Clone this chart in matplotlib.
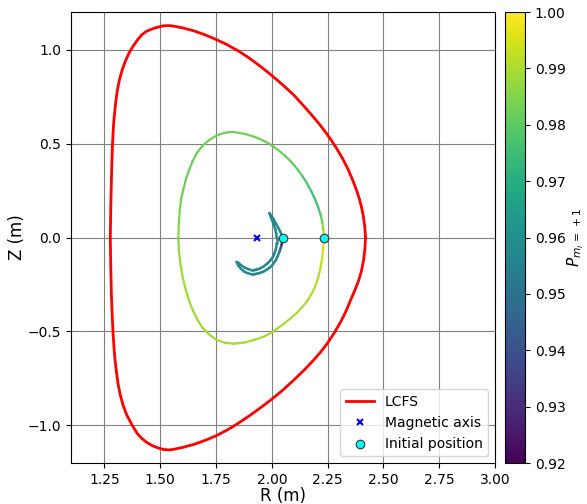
import numpy as np
import matplotlib
matplotlib.use("Agg")
import matplotlib.pyplot as plt
from matplotlib.collections import LineCollection

# LCFS boundary (R, Z in m)
lcfs_R = [2.420, 2.416, 2.409, 2.401, 2.393, 2.380, 2.364, 2.342, 2.317, 2.290,
          2.265, 2.243, 2.212, 2.180, 2.143, 2.097, 2.049, 2.000, 1.950, 1.895,
          1.850, 1.800, 1.750, 1.700, 1.650, 1.600, 1.560, 1.541, 1.515, 1.490,
          1.465, 1.439, 1.418, 1.398, 1.378, 1.360, 1.344, 1.330, 1.317, 1.307,
          1.300, 1.295, 1.291, 1.286, 1.283, 1.281, 1.278, 1.276,
          1.278, 1.281, 1.284, 1.288, 1.294, 1.298, 1.304, 1.311, 1.320, 1.334,
          1.350, 1.372, 1.398, 1.418, 1.439, 1.465, 1.490, 1.515, 1.541, 1.560,
          1.600, 1.650, 1.700, 1.750, 1.800, 1.850, 1.900, 1.950, 2.000, 2.049,
          2.097, 2.145, 2.185, 2.218, 2.245, 2.280, 2.308, 2.333, 2.354, 2.372,
          2.388, 2.401, 2.411, 2.417, 2.420]
lcfs_Z = [0.000, 0.060, 0.120, 0.165, 0.202, 0.250, 0.300, 0.362, 0.420, 0.475,
          0.520, 0.557, 0.605, 0.650, 0.700, 0.760, 0.812, 0.862, 0.910, 0.958,
          0.993, 1.026, 1.054, 1.079, 1.100, 1.116, 1.125, 1.128, 1.127, 1.120,
          1.111, 1.098, 1.080, 1.052, 1.018, 0.982, 0.940, 0.895, 0.840, 0.780,
          0.716, 0.660, 0.610, 0.500, 0.400, 0.309, 0.150, 0.000,
          -0.150, -0.310, -0.400, -0.503, -0.610, -0.660, -0.720, -0.780, -0.835, -0.895,
          -0.945, -0.995, -1.045, -1.070, -1.090, -1.108, -1.120, -1.128, -1.130, -1.127,
          -1.117, -1.101, -1.080, -1.055, -1.024, -0.988, -0.948, -0.905, -0.860, -0.812,
          -0.760, -0.705, -0.655, -0.610, -0.569, -0.507, -0.450, -0.390, -0.330, -0.280,
          -0.232, -0.180, -0.120, -0.060, 0.000]

# passing orbit from the outer start point, coloured by P
pass_R = [2.233, 2.231, 2.226, 2.218, 2.207, 2.193, 2.177, 2.158, 2.137, 2.113,
          2.087, 2.060, 2.030, 2.000, 1.965, 1.925, 1.880, 1.829, 1.800, 1.770,
          1.750, 1.718, 1.689, 1.665, 1.645, 1.630, 1.615, 1.603, 1.593, 1.587,
          1.583, 1.581,
          1.583, 1.587, 1.593, 1.600, 1.610, 1.630, 1.645, 1.665, 1.689, 1.718,
          1.750, 1.790, 1.829, 1.880, 1.925, 1.965, 2.000, 2.025, 2.049, 2.080,
          2.108, 2.135, 2.158, 2.178, 2.195, 2.208, 2.218, 2.225, 2.230, 2.233]
pass_Z = [0.000, 0.040, 0.080, 0.122, 0.163, 0.205, 0.245, 0.287, 0.327, 0.366,
          0.402, 0.434, 0.464, 0.490, 0.514, 0.535, 0.551, 0.562, 0.560, 0.551,
          0.541, 0.518, 0.488, 0.452, 0.407, 0.362, 0.310, 0.255, 0.202, 0.140,
          0.070, 0.000,
          -0.060, -0.110, -0.161, -0.210, -0.260, -0.338, -0.385, -0.435, -0.480, -0.515,
          -0.543, -0.560, -0.565, -0.558, -0.543, -0.527, -0.504, -0.484, -0.463, -0.434,
          -0.405, -0.372, -0.338, -0.300, -0.258, -0.212, -0.163, -0.112, -0.056, 0.000]
pass_P = [0.996, 0.990, 0.984, 0.979, 0.976, 0.975, 0.976, 0.978, 0.979, 0.980,
          0.981, 0.981, 0.982, 0.982, 0.982, 0.983, 0.983, 0.983, 0.983, 0.983,
          0.983, 0.983, 0.982, 0.982, 0.982, 0.982, 0.982, 0.982, 0.983, 0.984,
          0.985, 0.986,
          0.987, 0.988, 0.988, 0.989, 0.989, 0.989, 0.989, 0.989, 0.989, 0.989,
          0.989, 0.989, 0.989, 0.989, 0.989, 0.989, 0.989, 0.989, 0.990, 0.990,
          0.990, 0.990, 0.990, 0.990, 0.991, 0.991, 0.992, 0.993, 0.994, 0.996]

# banana orbit from the inner start point
ban_R = [2.049, 2.046, 2.041, 2.034, 2.026, 2.016, 2.005, 1.992, 1.978, 1.964,
         1.950, 1.935, 1.920, 1.905, 1.890, 1.876, 1.861, 1.850, 1.842,
         1.850, 1.863, 1.878, 1.892, 1.905, 1.920, 1.935, 1.950, 1.965, 1.980,
         1.993, 2.005, 2.013, 2.019, 2.022, 2.022, 2.020, 2.015, 2.009, 2.002,
         1.995, 1.989,
         1.998, 2.008, 2.018, 2.028, 2.037, 2.044, 2.048]
ban_Z = [0.000, -0.025, -0.050, -0.075, -0.100, -0.124, -0.142, -0.158, -0.170, -0.180,
         -0.187, -0.192, -0.194, -0.194, -0.189, -0.181, -0.166, -0.150, -0.130,
         -0.135, -0.148, -0.160, -0.167, -0.172, -0.172, -0.170, -0.163, -0.152, -0.138,
         -0.122, -0.103, -0.080, -0.055, -0.030, -0.005, 0.020, 0.045, 0.068, 0.090,
         0.110, 0.130,
         0.116, 0.097, 0.075, 0.053, 0.033, 0.015, 0.002]
ban_P = [0.925, 0.925, 0.930] + [0.957] * 45

axis_R, axis_Z = 1.932, 0.0
start_R = [2.049, 2.233]
start_Z = [0.0, 0.0]

p_min, p_max = 0.92, 1.00


def colored_line(R, Z, P, lw):
    pts = np.column_stack([R, Z]).reshape(-1, 1, 2)
    segs = np.concatenate([pts[:-1], pts[1:]], axis=1)
    P = np.asarray(P)
    vals = 0.5 * (P[:-1] + P[1:])
    lc = LineCollection(segs, cmap="viridis", norm=plt.Normalize(p_min, p_max),
                        linewidths=lw, capstyle="round", joinstyle="round")
    lc.set_array(vals)
    return lc


fig = plt.figure(figsize=(5.87, 5.04), dpi=100)
ax = fig.add_axes([0.121, 0.0813, 0.7223, 0.8948])
cax = fig.add_axes([0.8603, 0.0813, 0.0341, 0.8948])

ax.plot(lcfs_R, lcfs_Z, color="red", lw=2, label="LCFS")
lc1 = colored_line(pass_R, pass_Z, pass_P, 1.6)
ax.add_collection(lc1)
lc2 = colored_line(ban_R, ban_Z, ban_P, 1.8)
ax.add_collection(lc2)

ax.plot(axis_R, axis_Z, "x", color="blue", ms=5, mew=1.5, ls="none",
        label="Magnetic axis")
ax.scatter(start_R, start_Z, s=38, color="cyan", edgecolors="#333333",
           linewidths=0.8, zorder=5, label="Initial position")

ax.set_xlim(1.1, 3.0)
ax.set_ylim(-1.2, 1.2)
ax.set_xlabel("R (m)", fontsize=12, labelpad=0)
ax.set_ylabel("Z (m)", fontsize=12, labelpad=1)
ax.grid(True, color="gray", lw=0.8)
ax.set_axisbelow(True)
ax.legend(loc="lower right", fontsize=10)

cbar = fig.colorbar(lc1, cax=cax)
cbar.set_ticks(np.arange(0.92, 1.0001, 0.01))
cbar.set_label(r"$P_{m_i\,=\,+1}$", fontsize=11, labelpad=0)

plt.savefig("out.png", dpi=100)
plt.close()
